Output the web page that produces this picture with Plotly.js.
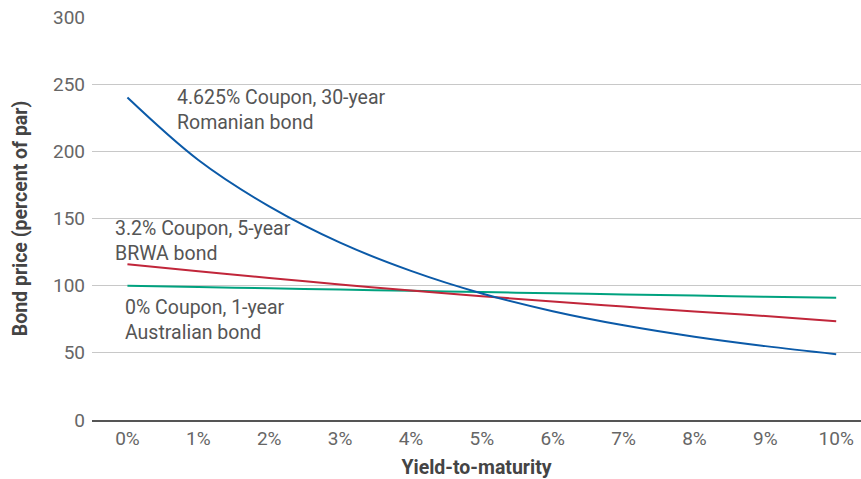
<!DOCTYPE html>
<html>
<head>
<meta charset="utf-8">
<script src="https://cdn.plot.ly/plotly-3.0.1.min.js"></script>
<style>html,body{margin:0;padding:0;background:#fff;}#chart{width:861px;height:479px;}</style>
</head>
<body>
<div id="chart"></div>
<script>
// Yield-to-maturity (%)
const yields = [0, 1, 2, 3, 4, 5, 6, 7, 8, 9, 10];
const xTickLabels = ["0%", "1%", "2%", "3%", "4%", "5%", "6%", "7%", "8%", "9%", "10%"];
// Bond prices (percent of par)
const romanian30y = [240, 193.5, 159, 132, 111, 94.2, 81, 70.5, 62, 55, 49];
const brwa5y = [116, 110.7, 105.7, 100.9, 96.4, 92.2, 88.2, 84.4, 80.8, 77.4, 73.5];
const australian1y = [100, 99.0, 98.0, 97.1, 96.2, 95.2, 94.3, 93.5, 92.6, 91.7, 91];
const seriesLabels = ["4.625% Coupon, 30-year<br>Romanian bond", "3.2% Coupon, 5-year<br>BRWA bond", "0% Coupon, 1-year<br>Australian bond"];

const font = "Roboto, 'Noto Sans', sans-serif";
const traces = [
  {x: yields, y: australian1y, mode: "lines", line: {color: "#00a27f", width: 2, shape: "spline"}, hoverinfo: "skip"},
  {x: yields, y: brwa5y, mode: "lines", line: {color: "#c1263a", width: 2, shape: "spline"}, hoverinfo: "skip"},
  {x: yields, y: romanian30y, mode: "lines", line: {color: "#0b5aa8", width: 2, shape: "spline"}, hoverinfo: "skip"}
];
const ann = (text, x, y) => ({text: text, x: x, y: y, xref: "x", yref: "y", xanchor: "left", yanchor: "middle", align: "left", showarrow: false, font: {family: font, size: 19.5, color: "#555"}});
const layout = {
  width: 861, height: 479,
  margin: {l: 92, r: 0, t: 17, b: 59},
  paper_bgcolor: "#fff", plot_bgcolor: "#fff",
  showlegend: false,
  font: {family: font, color: "#666"},
  xaxis: {
    range: [-0.5, 10.35], tickvals: yields, ticktext: xTickLabels,
    showgrid: false, zeroline: false, showline: true, linecolor: "#555", linewidth: 2,
    ticks: "", tickfont: {size: 19, color: "#666", family: font},
    title: {text: "<b>Yield-to-maturity</b>", font: {size: 19.5, color: "#444", family: font}, standoff: 12}
  },
  yaxis: {
    range: [0, 300], tickvals: [0, 50, 100, 150, 200, 250, 300],
    showgrid: true, gridcolor: "#c8c8c8", gridwidth: 1, zeroline: false, showline: false,
    ticks: "", tickfont: {size: 19, color: "#666", family: font}, ticklabelstandoff: 6,
    title: {text: "<b>Bond price (percent of par)</b>", font: {size: 19.5, color: "#444", family: font}, standoff: 20}
  },
  annotations: [
    ann(seriesLabels[0], 0.67, 231),
    ann(seriesLabels[1], -0.21, 133),
    ann(seriesLabels[2], -0.06, 74.5)
  ]
};
Plotly.newPlot("chart", traces, layout, {displayModeBar: false, staticPlot: true});
</script>
</body>
</html>
